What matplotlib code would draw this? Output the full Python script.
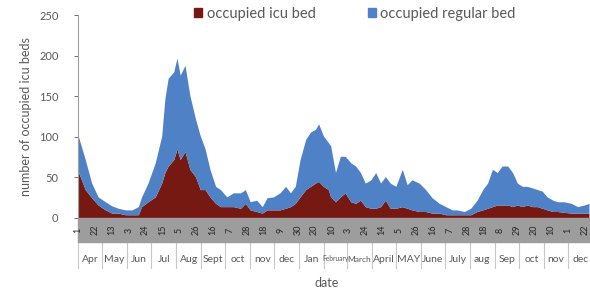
import matplotlib
matplotlib.use("Agg")
import matplotlib.pyplot as plt
from matplotlib.patches import Rectangle, Patch
import pandas as pd

plt.rcParams['font.family'] = ['Lato', 'DejaVu Sans']

# values (roughly every 6-8 days)
dates = ['2020-04-01', '2020-04-10', '2020-04-18', '2020-04-26', '2020-05-05',
         '2020-05-13', '2020-05-21', '2020-05-30', '2020-06-07', '2020-06-15',
         '2020-06-19', '2020-06-27', '2020-07-06', '2020-07-14', '2020-07-18',
         '2020-07-22', '2020-07-29', '2020-08-02', '2020-08-06', '2020-08-12',
         '2020-08-18', '2020-08-25', '2020-08-31', '2020-09-06', '2020-09-12',
         '2020-09-19', '2020-09-25', '2020-10-03', '2020-10-11', '2020-10-20',
         '2020-10-26', '2020-11-01', '2020-11-09', '2020-11-16', '2020-11-22',
         '2020-11-30', '2020-12-08', '2020-12-15', '2020-12-21', '2020-12-27',
         '2021-01-02', '2021-01-09', '2021-01-15', '2021-01-21', '2021-01-25',
         '2021-01-31', '2021-02-06', '2021-02-09', '2021-02-15', '2021-02-21',
         '2021-02-27', '2021-03-06', '2021-03-12', '2021-03-18', '2021-03-24',
         '2021-03-31', '2021-04-06', '2021-04-12', '2021-04-18', '2021-04-24',
         '2021-05-01', '2021-05-09', '2021-05-15', '2021-05-21', '2021-05-30',
         '2021-06-07', '2021-06-15', '2021-06-24', '2021-07-02', '2021-07-10',
         '2021-07-16', '2021-07-25', '2021-08-02', '2021-08-10', '2021-08-17',
         '2021-08-23', '2021-08-29', '2021-09-04', '2021-09-10', '2021-09-17',
         '2021-09-23', '2021-09-29', '2021-10-05', '2021-10-11', '2021-10-18',
         '2021-10-24', '2021-10-30', '2021-11-05', '2021-11-12', '2021-11-18',
         '2021-11-26', '2021-12-05', '2021-12-13', '2021-12-21', '2021-12-27']

icu = [58, 35, 25, 16, 10, 6, 6, 4, 4, 4,
       14, 20, 26, 43, 56, 64, 72, 85, 72, 82,
       60, 51, 35, 35, 26, 18, 14, 14, 14, 12,
       18, 10, 8, 6, 10, 10, 10, 12, 14, 18,
       26, 35, 39, 43, 45, 39, 35, 26, 20, 26,
       31, 20, 18, 22, 14, 12, 12, 14, 22, 12,
       12, 14, 12, 10, 8, 8, 6, 6, 4, 4,
       4, 4, 4, 8, 10, 12, 14, 16, 16, 16,
       14, 16, 14, 16, 14, 14, 12, 10, 8, 8,
       7, 6, 6, 6, 6]

regular = [44, 37, 18, 10, 10, 9, 6, 6, 6, 10,
           12, 23, 42, 58, 91, 108, 108, 112, 104, 106,
           91, 71, 66, 50, 34, 21, 21, 12, 17, 19,
           17, 10, 14, 8, 15, 16, 21, 27, 17, 21,
           46, 62, 67, 66, 71, 62, 58, 63, 36, 50,
           45, 48, 46, 34, 29, 35, 44, 29, 29, 31,
           27, 46, 29, 37, 35, 27, 19, 12, 10, 6,
           6, 4, 8, 14, 25, 31, 46, 40, 48, 48,
           42, 27, 25, 23, 23, 21, 21, 16, 14, 12,
           13, 12, 8, 10, 12]

months = ['Apr', 'May', 'Jun', 'Jul', 'Aug', 'Sept', 'oct', 'nov', 'dec',
          'Jan', 'February', 'March', 'April', 'MAY', 'June', 'July',
          'aug', 'Sep', 'oct', 'nov', 'dec']

icu_color = '#761912'
reg_color = '#4f81c6'
txt_color = '#595959'

x = pd.to_datetime(dates)
top = [a + b for a, b in zip(icu, regular)]

fig = plt.figure(figsize=(5.9, 2.91), dpi=100)
H = 203.0
ax = fig.add_axes([78 / 590, 1 - 218 / 291, (593 - 78) / 590, H / 291])

ax.fill_between(x, 0, icu, color=icu_color, lw=0)
ax.fill_between(x, icu, top, color=reg_color, lw=0)

start = pd.Timestamp('2020-04-01')
end = pd.Timestamp('2022-01-01')
ax.set_xlim(start, end)
ax.set_ylim(0, 250)
ax.set_yticks(range(0, 251, 50))
ax.tick_params(axis='y', labelsize=8, colors=txt_color, length=3, width=0.6, pad=11)
ax.tick_params(axis='x', bottom=False, labelbottom=False)
for s in ['top', 'right', 'bottom']:
    ax.spines[s].set_visible(False)
ax.spines['left'].set_color('#a0a0a0')
ax.spines['left'].set_linewidth(0.8)
ax.set_ylabel('number of occupied icu beds', fontsize=9, color=txt_color, labelpad=5)

# gray band holding the rotated day labels
band = 24 / H
ax.add_patch(Rectangle((0, -band), 1, band, transform=ax.transAxes,
                       color='#9d9d9d', clip_on=False, zorder=3))
trans = ax.get_xaxis_transform()
for d in pd.date_range(start, '2021-12-31', freq='21D'):
    ax.text(d, -band / 2, str(d.day), rotation=90, ha='center', va='center',
            fontsize=6.5, color='#262626', transform=trans, zorder=4, clip_on=False)

# month boxes
bounds = pd.date_range(start, end, freq='MS')
for b in bounds:
    ax.plot([b, b], [-band, -50 / H], transform=trans, color='#c8c8c8',
            lw=0.8, clip_on=False)
for i, m in enumerate(months):
    mid = bounds[i] + (bounds[i + 1] - bounds[i]) / 2
    fs = {'February': 4.8, 'March': 6.0}.get(m, 7.5)
    ax.text(mid, -41 / H, m, ha='center', va='center', fontsize=fs,
            color=txt_color, transform=trans, clip_on=False)

fig.text(327 / 590, 1 - 283 / 291, 'date', ha='center', va='center',
         fontsize=9, color=txt_color)

handles = [Patch(color=icu_color, label='occupied icu bed'),
           Patch(color=reg_color, label='occupied regular bed')]
leg = fig.legend(handles=handles, loc='center', bbox_to_anchor=(355 / 590, 1 - 14 / 291),
                 ncol=2, frameon=False, fontsize=10.5, handlelength=0.55,
                 handleheight=0.55, handletextpad=0.3, columnspacing=3.6)
for t in leg.get_texts():
    t.set_color(txt_color)

fig.savefig('out.png', dpi=100)
